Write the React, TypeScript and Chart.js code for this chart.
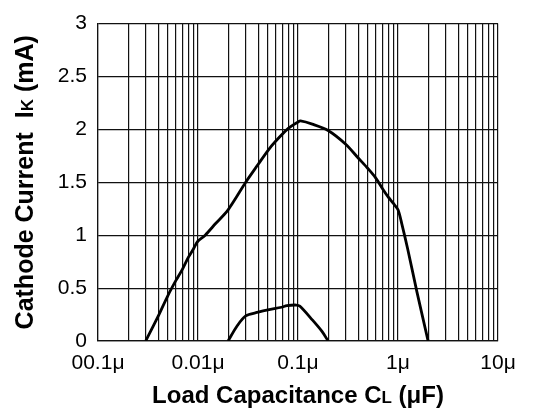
import React, { useEffect, useRef } from 'react';
import { Chart, registerables } from 'chart.js';

Chart.register(...registerables);

// Upper curve: load capacitance (µF) vs cathode current (mA)
const upperCap = [0.003, 0.004, 0.005, 0.006, 0.007, 0.008, 0.009, 0.01, 0.0118, 0.015, 0.02, 0.03, 0.04, 0.05, 0.06, 0.08, 0.1, 0.106, 0.139, 0.2, 0.3, 0.4, 0.5, 0.6, 0.7, 0.8, 0.9, 1.0, 1.09, 1.25, 1.55, 2.0];
const upperCurrent = [0, 0.235, 0.43, 0.57, 0.68, 0.79, 0.87, 0.945, 1.0, 1.11, 1.24, 1.5, 1.67, 1.8, 1.89, 2.01, 2.07, 2.08, 2.05, 1.99, 1.86, 1.73, 1.63, 1.54, 1.44, 1.36, 1.3, 1.24, 1.11, 0.87, 0.46, 0];

// Lower curve
const lowerCap = [0.02, 0.0245, 0.03, 0.04, 0.05, 0.0685, 0.0774, 0.096, 0.104, 0.139, 0.173, 0.2];
const lowerCurrent = [0, 0.14, 0.238, 0.272, 0.294, 0.319, 0.334, 0.34, 0.33, 0.2, 0.093, 0];

const xDecades = [0.001, 0.01, 0.1, 1, 10];
const xTickLabels = ['00.1μ', '0.01μ', '0.1μ', '1μ', '10μ'];
const yTickValues = [0, 0.5, 1, 1.5, 2, 2.5, 3];
const yTickLabels = ['0', '0.5', '1', '1.5', '2', '2.5', '3'];
const xTitleParts: [string, number][] = [['Load Capacitance C', 1], ['L', 0.7], [' (μF)', 1]];
const yTitleParts: [string, number][] = [['Cathode Current  I', 1], ['K', 0.7], [' (mA)', 1]];

const FONT = '"Liberation Sans", Arial, Helvetica, sans-serif';

const xGridValues: number[] = [];
xDecades.forEach((d, i) => {
  if (i === xDecades.length - 1) {
    xGridValues.push(d);
  } else {
    [1, 2, 3, 4, 5, 6, 7, 8, 9].forEach((m) => xGridValues.push(parseFloat((d * m).toPrecision(6))));
  }
});

const toPoints = (xs: number[], ys: number[]) => xs.map((x, i) => ({ x, y: ys[i] }));

const titlePlugin = {
  id: 'axisTitles',
  afterDraw(chart: any) {
    const ctx: CanvasRenderingContext2D = chart.ctx;
    const area = chart.chartArea;
    const drawParts = (parts: [string, number][], size: number) => {
      let total = 0;
      const widths = parts.map(([t, r]) => {
        ctx.font = `bold ${Math.round(size * r)}px ${FONT}`;
        const w = ctx.measureText(t).width;
        total += w;
        return w;
      });
      let x = -total / 2;
      parts.forEach(([t, r], i) => {
        ctx.font = `bold ${Math.round(size * r)}px ${FONT}`;
        ctx.fillText(t, x, 0);
        x += widths[i];
      });
    };
    ctx.save();
    ctx.fillStyle = '#000';
    ctx.textBaseline = 'alphabetic';
    ctx.textAlign = 'left';
    ctx.translate((area.left + area.right) / 2, 403);
    drawParts(xTitleParts, 24);
    ctx.restore();
    ctx.save();
    ctx.fillStyle = '#000';
    ctx.textBaseline = 'alphabetic';
    ctx.textAlign = 'left';
    ctx.translate(33, (area.top + area.bottom) / 2);
    ctx.rotate(-Math.PI / 2);
    drawParts(yTitleParts, 24.5);
    ctx.restore();
  },
};

export default function App() {
  const canvasRef = useRef<HTMLCanvasElement | null>(null);

  useEffect(() => {
    document.body.style.margin = '0';
    const canvas = canvasRef.current;
    if (!canvas) return;
    const chart = new Chart(canvas, {
      type: 'line',
      data: {
        datasets: [
          {
            data: toPoints(upperCap, upperCurrent),
            borderColor: '#000',
            borderWidth: 2.8,
            pointRadius: 0,
            tension: 0.3,
            fill: false,
          },
          {
            data: toPoints(lowerCap, lowerCurrent),
            borderColor: '#000',
            borderWidth: 2.8,
            pointRadius: 0,
            tension: 0.3,
            fill: false,
          },
        ],
      },
      options: {
        animation: false,
        responsive: true,
        maintainAspectRatio: false,
        layout: { padding: { top: 16, right: 54, left: 0, bottom: 0 } },
        plugins: { legend: { display: false }, tooltip: { enabled: false } },
        scales: {
          x: {
            type: 'logarithmic',
            min: 0.001,
            max: 10,
            afterBuildTicks: (scale: any) => {
              scale.ticks = xGridValues.map((v) => ({ value: v }));
            },
            afterFit: (scale: any) => {
              scale.height = 70;
            },
            grid: { color: '#111', lineWidth: 1.2, drawTicks: false },
            border: { color: '#111', width: 1.2 },
            ticks: {
              autoSkip: false,
              maxRotation: 0,
              minRotation: 0,
              padding: 10,
              color: '#000',
              font: { family: FONT, size: 21 },
              callback: (value: any) => {
                const idx = xDecades.findIndex((d) => Math.abs(d - Number(value)) / d < 1e-6);
                return idx >= 0 ? xTickLabels[idx] : '';
              },
            },
          },
          y: {
            type: 'linear',
            min: 0,
            max: 3,
            afterBuildTicks: (scale: any) => {
              scale.ticks = yTickValues.map((v) => ({ value: v }));
            },
            afterFit: (scale: any) => {
              scale.width = 98;
            },
            grid: { color: '#111', lineWidth: 1.2, drawTicks: false },
            border: { color: '#111', width: 1.2 },
            ticks: {
              padding: 11,
              color: '#000',
              font: { family: FONT, size: 21 },
              callback: (value: any) => {
                const idx = yTickValues.findIndex((v) => Math.abs(v - Number(value)) < 1e-6);
                return idx >= 0 ? yTickLabels[idx] : '';
              },
            },
          },
        },
      },
      plugins: [titlePlugin],
    } as any);
    return () => chart.destroy();
  }, []);

  return (
    <div style={{ position: 'relative', width: 552, height: 411 }}>
      <canvas ref={canvasRef} />
    </div>
  );
}
